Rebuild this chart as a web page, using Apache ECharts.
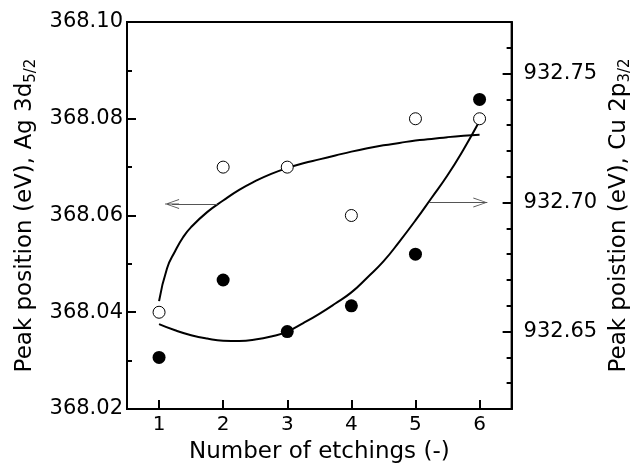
<!DOCTYPE html>
<html>
<head>
    <meta charset="UTF-8">
    <title>Peak position vs number of etchings</title>
    <script src="https://cdn.jsdelivr.net/npm/echarts@6/dist/echarts.min.js"></script>
    <style>
        body { margin: 0; background: #fff; }
    </style>
</head>
<body>
<div id="chart" style="width: 641px; height: 471px;"></div>
<script>
    // measured points
    var etchings = [1, 2, 3, 4, 5, 6];
    var agPeak = [368.040, 368.070, 368.070, 368.060, 368.080, 368.080];   // open circles, left axis
    var cuPeak = [932.640, 932.670, 932.650, 932.660, 932.680, 932.740];   // filled circles, right axis

    // fitted curves
    var agFitX = [1.0, 1.125, 1.25, 1.375, 1.5, 1.75, 2.0, 2.25, 2.5, 2.75, 3.0, 3.25, 3.5,
                  3.75, 4.0, 4.25, 4.5, 4.75, 5.0, 5.25, 5.5, 5.75, 6.0];
    var agFitY = [368.0423, 368.0491, 368.0526, 368.0555, 368.0576, 368.0607, 368.0631, 368.0653, 368.0671, 368.0686, 368.0698, 368.0708, 368.0716,
                  368.0724, 368.0732, 368.0739, 368.0745, 368.0750, 368.0755, 368.0758, 368.0762, 368.0765, 368.0767];
    var cuFitX = [1.0, 1.25, 1.5, 1.75, 2.0, 2.25, 2.5, 2.75, 3.0, 3.25, 3.5,
                  3.75, 4.0, 4.25, 4.5, 4.75, 5.0, 5.25, 5.5, 5.75, 6.0];
    var cuFitY = [932.6529, 932.6505, 932.6486, 932.6473, 932.6465, 932.6464, 932.6469, 932.6481, 932.6500, 932.6533, 932.6569,
                  932.6609, 932.6652, 932.6710, 932.6772, 932.6849, 932.6931, 932.7018, 932.7106, 932.7206, 932.7316];

    // arrows pointing to the axis each curve belongs to
    var agArrowX = [1.91, 1.203];
    var agArrowY = 368.0624;
    var cuArrowX = [5.21, 6.012];
    var cuArrowY = 932.700;

    // tick labels
    var xTicks = [1, 2, 3, 4, 5, 6];
    var cuTicks = [932.65, 932.70, 932.75];

    function pairs(xs, ys) {
        var out = [];
        for (var i = 0; i < xs.length; i++) out.push([xs[i], ys[i]]);
        return out;
    }

    var font = 'DejaVu Sans';
    var chevron = 'path://M50,0 L100,140 L90,140 L50,20 L10,140 L0,140 Z M45,0 L55,0 L55,140 L45,140 Z';

    var chart = echarts.init(document.getElementById('chart'));
    var option = {
        animation: false,
        backgroundColor: '#fff',
        grid: {
            left: 127, top: 22, right: 129, bottom: 62,
            show: true, borderColor: '#000', borderWidth: 2
        },
        xAxis: {
            type: 'value',
            min: 0.5, max: 6.5,
            name: 'Number of etchings (-)',
            nameLocation: 'middle',
            nameGap: 32,
            nameTextStyle: { fontFamily: font, fontSize: 23, color: '#000' },
            axisLine: { lineStyle: { color: '#000', width: 2 } },
            axisTick: { inside: true, length: 9, lineStyle: { width: 2, color: '#000' }, customValues: xTicks },
            axisLabel: { fontFamily: font, fontSize: 20, color: '#000', margin: 6, customValues: xTicks },
            splitLine: { show: false }
        },
        yAxis: [
            {
                type: 'value',
                position: 'left',
                min: 368.02, max: 368.10, interval: 0.02,
                name: 'Peak position (eV), Ag 3d{sub|5/2}',
                nameLocation: 'middle',
                nameRotate: 90,
                nameGap: 88,
                nameTextStyle: {
                    fontFamily: font, fontSize: 23, color: '#000',
                    rich: { sub: { fontFamily: font, fontSize: 15, color: '#000', verticalAlign: 'bottom', padding: [12, 0, 0, 0] } }
                },
                axisLine: { show: true, lineStyle: { color: '#000', width: 2 } },
                axisTick: { inside: true, length: 9, lineStyle: { width: 2, color: '#000' } },
                minorTick: { show: true, splitNumber: 2, length: 5, lineStyle: { width: 2, color: '#000' } },
                axisLabel: {
                    fontFamily: font, fontSize: 21, color: '#000', margin: 4,
                    formatter: function (v) { return v.toFixed(2); }
                },
                splitLine: { show: false }
            },
            {
                type: 'value',
                position: 'right',
                min: 932.62, max: 932.77,
                name: 'Peak poistion (eV), Cu 2p{sub|3/2}',
                nameLocation: 'middle',
                nameRotate: 90,
                nameGap: 92,
                nameTextStyle: {
                    fontFamily: font, fontSize: 23, color: '#000',
                    rich: { sub: { fontFamily: font, fontSize: 15, color: '#000', verticalAlign: 'bottom', padding: [12, 0, 0, 0] } }
                },
                axisLine: { show: true, lineStyle: { color: '#000', width: 2 } },
                axisTick: { inside: true, length: 9, lineStyle: { width: 2, color: '#000' }, customValues: cuTicks },
                axisLabel: {
                    fontFamily: font, fontSize: 21, color: '#000', margin: 12, customValues: cuTicks,
                    formatter: function (v) { return v.toFixed(2); }
                },
                splitLine: { show: false }
            },
            {
                // minor ticks of the right axis
                type: 'value',
                position: 'right',
                min: 932.62, max: 932.77, interval: 0.01,
                axisLine: { show: false },
                axisTick: { inside: true, length: 5, lineStyle: { width: 2, color: '#000' } },
                axisLabel: { show: false },
                splitLine: { show: false }
            }
        ],
        series: [
            {
                name: 'Ag fit',
                type: 'line',
                yAxisIndex: 0,
                data: pairs(agFitX, agFitY),
                smooth: true,
                showSymbol: false,
                lineStyle: { color: '#000', width: 2 },
                markLine: {
                    silent: true,
                    symbol: ['none', chevron],
                    symbolSize: [10, 14],
                    label: { show: false },
                    lineStyle: { color: '#555', width: 1, type: 'solid' },
                    data: [[{ coord: [agArrowX[0], agArrowY] }, { coord: [agArrowX[1], agArrowY] }]]
                }
            },
            {
                name: 'Cu fit',
                type: 'line',
                yAxisIndex: 1,
                data: pairs(cuFitX, cuFitY),
                smooth: true,
                showSymbol: false,
                lineStyle: { color: '#000', width: 2 },
                markLine: {
                    silent: true,
                    symbol: ['none', chevron],
                    symbolSize: [10, 14],
                    label: { show: false },
                    lineStyle: { color: '#555', width: 1, type: 'solid' },
                    data: [[{ coord: [cuArrowX[0], cuArrowY] }, { coord: [cuArrowX[1], cuArrowY] }]]
                }
            },
            {
                name: 'Ag 3d5/2',
                type: 'scatter',
                yAxisIndex: 0,
                data: pairs(etchings, agPeak),
                symbol: 'circle',
                symbolSize: 12,
                itemStyle: { color: '#fff', borderColor: '#000', borderWidth: 1, opacity: 1 },
                z: 5
            },
            {
                name: 'Cu 2p3/2',
                type: 'scatter',
                yAxisIndex: 1,
                data: pairs(etchings, cuPeak),
                symbol: 'circle',
                symbolSize: 13,
                itemStyle: { color: '#000', opacity: 1 },
                z: 5
            }
        ]
    };
    chart.setOption(option);
</script>
</body>
</html>
